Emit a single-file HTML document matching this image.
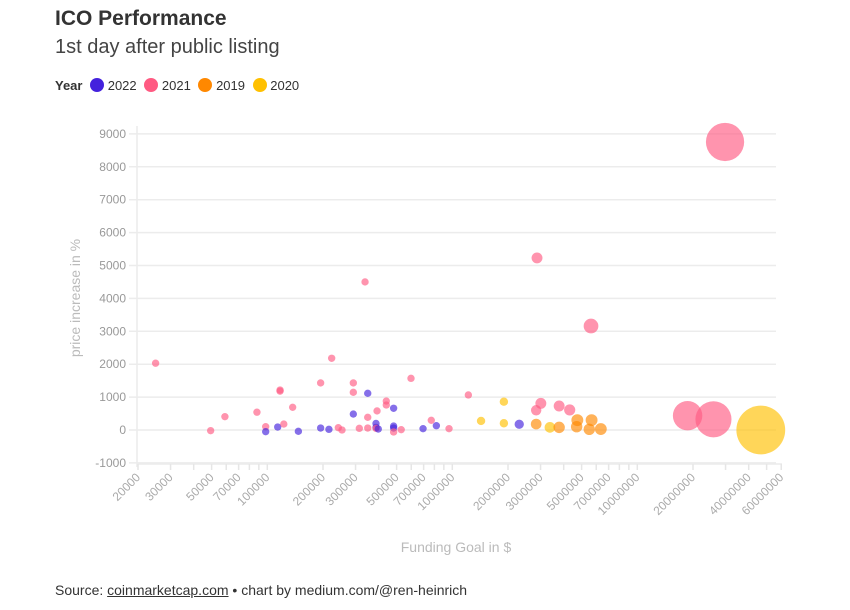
<!DOCTYPE html>
<html><head><meta charset="utf-8">
<style>
body{margin:0;background:#fff;font-family:"Liberation Sans",sans-serif;}
#wrap{position:relative;width:850px;height:610px;overflow:hidden;}
.t{position:absolute;white-space:nowrap;}
</style></head>
<body>
<div id="wrap">
<div class="t" style="left:55px;top:7px;font-size:21px;font-weight:bold;color:#333;">ICO Performance</div>
<div class="t" style="left:55px;top:36px;font-size:20px;color:#444;">1st day after public listing</div>
<div class="t" style="left:55px;top:78px;font-size:13px;color:#333;">
<b>Year</b>
<span style="margin-left:4px"><span style="display:inline-block;width:14px;height:14px;border-radius:50%;background:#4422dd;vertical-align:-2px"></span> 2022</span>
<span style="margin-left:4px"><span style="display:inline-block;width:14px;height:14px;border-radius:50%;background:#ff5a82;vertical-align:-2px"></span> 2021</span>
<span style="margin-left:4px"><span style="display:inline-block;width:14px;height:14px;border-radius:50%;background:#ff8800;vertical-align:-2px"></span> 2019</span>
<span style="margin-left:4px"><span style="display:inline-block;width:14px;height:14px;border-radius:50%;background:#ffc000;vertical-align:-2px"></span> 2020</span>
</div>
<svg id="chart" width="850" height="610" style="position:absolute;left:0;top:0"></svg>
<div class="t" style="left:55px;top:582px;font-size:14px;color:#333;">Source: <u>coinmarketcap.com</u> • chart by medium.com/@ren-heinrich</div>
</div>
<script>
const years=["2022","2021","2019","2020"];
const yearColors={"2022":"#4422dd","2021":"#ff5a82","2019":"#ff8800","2020":"#ffc000"};
const xTicks=[20000,30000,50000,70000,100000,200000,300000,500000,700000,1000000,2000000,3000000,5000000,7000000,10000000,20000000,40000000,60000000];
const xMinor=[40000,60000,80000,90000,400000,600000,800000,900000,4000000,6000000,8000000,9000000,30000000,50000000];
const yTicks=[-1000,0,1000,2000,3000,4000,5000,6000,7000,8000,9000];
// funding goal ($)
const goals=[24900,222800,49400,59000,87900,98000,98000,113800,117200,117200,122800,137100,147200,194200,194200,215300,242000,253400,291700,291700,291700,314300,349000,349000,349000,386800,386800,386800,398000,391900,439700,439700,481700,481700,481700,481700,529400,598000,694800,769700,820000,960000,1221000,337500,
1900000,1430000,1900000,2300000,3010000,2840000,2840000,3370000,3780000,3780000,4310000,4740000,4700000,5660000,5500000,6350000,18700000,25800000,46500000,29800000,2870000,5620000];
// price increase (%)
const gains=[2030,2180,-20,405,540,100,-50,90,1215,1180,180,690,-40,1430,60,20,70,0,1430,1145,485,50,1115,385,60,200,80,50,30,580,880,760,660,120,60,-60,10,1570,40,295,130,40,1065,4500,
860,275,205,175,810,600,180,80,80,730,610,300,100,300,20,30,435,325,0,8755,5230,3160];
const pointYears=["2021","2021","2021","2021","2021","2021","2022","2022","2021","2021","2021","2021","2022","2021","2022","2022","2021","2021","2021","2021","2022","2021","2022","2021","2021","2022","2022","2021","2022","2021","2021","2021","2022","2022","2022","2021","2021","2021","2022","2021","2022","2021","2021","2021",
"2020","2020","2020","2022","2021","2021","2019","2020","2019","2021","2021","2019","2019","2019","2019","2019","2021","2021","2020","2021","2021","2021"];
// bubble size (relative raised amount)
const sizes=[1,1,1,1,1,1,1,1,1,1,1,1,1,1,1,1,1,1,1,1,1,1,1,1,1,1,1,1,1,1,1,1,1,1,1,1,1,1,1,1,1,1,1,1,
1.3,1.3,1.3,1.6,2.2,2,2.1,2.1,2.4,2.2,2.3,2.6,2.4,2.6,2.4,2.6,16,24,44,27,2.2,4];

const X0=138,X1=782,Y0=430,Yk=32.9/1000;
const lmin=Math.log10(20000),pxPerDec=185;
function xs(v){return X0+(Math.log10(v)-lmin)*pxPerDec;}
function ys(v){return Y0-v*Yk;}
function rs(s){return 4*Math.sqrt(s)*0.92;}
const NS="http://www.w3.org/2000/svg";
const svg=document.getElementById('chart');
function mk(t,a){const e=document.createElementNS(NS,t);for(const k in a)e.setAttribute(k,a[k]);svg.appendChild(e);return e;}
yTicks.forEach(v=>{
 const y=ys(v);
 const g=mk('line',{x1:129,x2:776,y1:y,y2:y,stroke:'#ececec','stroke-width':1.5});
 
 
 const t=mk('text',{x:126,y:y+4,'text-anchor':'end','font-size':12,fill:'#999','font-family':'Liberation Sans, sans-serif'});
 t.textContent=v;
 
 
});
const ya=mk('line',{x1:137,x2:137,y1:126,y2:467,stroke:'#ececec','stroke-width':1.5});


const xa=mk('line',{x1:137,x2:782,y1:464,y2:464,stroke:'#ececec','stroke-width':1.5});


xMinor.concat(xTicks).forEach(v=>{
 const x=xs(v);
 const l=mk('line',{x1:x,x2:x,y1:464,y2:470,stroke:'#e6e6e6','stroke-width':1.5});
 
 
});
xTicks.forEach(v=>{
 const x=xs(v);
 const t=mk('text',{x:x+3,y:478,'text-anchor':'end','font-size':12,fill:'#aaa','font-family':'Liberation Sans, sans-serif',transform:`rotate(-45 ${x+3} 478)`});
 t.textContent=v;
 
 
});
const yt=mk('text',{x:80,y:298,'text-anchor':'middle','font-size':14,fill:'#bbb','font-family':'Liberation Sans, sans-serif',transform:'rotate(-90 80 298)'});
yt.textContent='price increase in %';


const xt=mk('text',{x:456,y:552,'text-anchor':'middle','font-size':14,fill:'#bbb','font-family':'Liberation Sans, sans-serif'});
xt.textContent='Funding Goal in $';


goals.forEach((g,i)=>{
 const c=mk('circle',{cx:xs(g),cy:ys(gains[i]),r:rs(sizes[i]),fill:yearColors[pointYears[i]],'fill-opacity':0.65});
 
 
});
</script>
</body></html>
